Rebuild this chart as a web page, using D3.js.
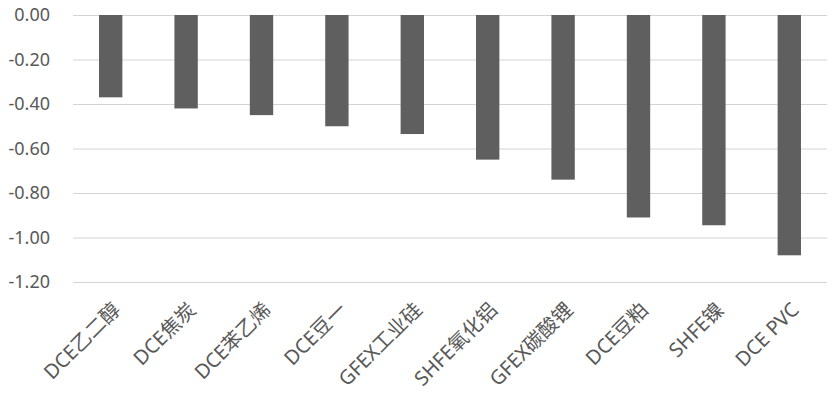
<!DOCTYPE html>
<html>
<head>
<meta charset="utf-8">
<script src="https://cdn.jsdelivr.net/npm/d3@7"></script>
<style>
  body { margin: 0; background: #fff; }
  text { font-family: "Noto Sans", "Noto Sans CJK SC", sans-serif; fill: #595959; }
</style>
</head>
<body>
<div id="root"></div>
<script>
// Chart data.
const categories = ['DCE乙二醇', 'DCE焦炭', 'DCE苯乙烯', 'DCE豆一', 'GFEX工业硅', 'SHFE氧化铝', 'GFEX碳酸锂', 'DCE豆粕', 'SHFE镍', 'DCE PVC'];
const values = [-0.37, -0.42, -0.45, -0.50, -0.535, -0.65, -0.74, -0.91, -0.945, -1.08];
const yTicks = [0, -0.2, -0.4, -0.6, -0.8, -1.0, -1.2];

let width = 833;
let height = 396;
let plotLeft = 73;
let plotRight = 827;
let plotTop = 15;
let plotBottom = 282;

let svg = d3.select('#root')
  .append('svg')
  .attr('width', width)
  .attr('height', height);

let xScale = d3.scaleBand()
  .domain(categories)
  .range([plotLeft, plotRight])
  .paddingInner(0.69)
  .paddingOuter(0.345);

let yScale = d3.scaleLinear()
  .domain([0, -1.2])
  .range([plotTop, plotBottom]);

// Plain hyphen for the minus sign, like the original.
let fmt = d3.formatLocale({ decimal: '.', thousands: ',', grouping: [3], currency: ['', ''], minus: '-' }).format('.2f');

// Gridlines + y labels.
let yAxis = d3.axisLeft(yScale)
  .tickValues(yTicks)
  .tickSize(-(plotRight - plotLeft))
  .tickPadding(23)
  .tickFormat(fmt);

let yG = svg.append('g')
  .attr('transform', `translate(${plotLeft}, 0)`)
  .call(yAxis);
yG.select('.domain').remove();
yG.selectAll('.tick line').attr('stroke', '#d4d4d4').attr('stroke-width', 1);
yG.selectAll('.tick text')
  .attr('font-size', 18)
  .style('font-family', '"Noto Sans", sans-serif')
  .attr('fill', '#595959');

// Bars.
svg.selectAll('rect.bar')
  .data(values)
  .enter()
  .append('rect')
  .attr('class', 'bar')
  .attr('x', (d, i) => xScale(categories[i]))
  .attr('width', xScale.bandwidth())
  .attr('y', yScale(0))
  .attr('height', d => yScale(d) - yScale(0))
  .attr('fill', '#5f5f5f');

// Rotated category labels.
svg.selectAll('text.cat')
  .data(categories)
  .enter()
  .append('text')
  .attr('class', 'cat')
  .attr('text-anchor', 'end')
  .attr('font-size', 20)
  .attr('transform', d => `translate(${xScale(d) + xScale.bandwidth() / 2 + 11}, ${plotBottom + 29}) rotate(-45)`)
  .text(d => d);
</script>
</body>
</html>
